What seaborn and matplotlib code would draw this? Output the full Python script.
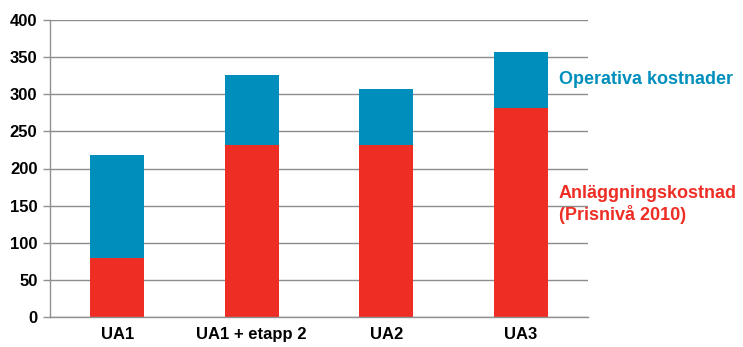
import matplotlib
matplotlib.use("Agg")
import matplotlib.pyplot as plt
import seaborn as sns
import pandas as pd

categories = ["UA1", "UA1 + etapp 2", "UA2", "UA3"]
anlaggning = [80, 232, 232, 282]
operativa = [138, 94, 75, 75]
yticks = [0, 50, 100, 150, 200, 250, 300, 350, 400]

RED = "#EE2E24"
BLUE = "#008FBC"

sns.set_theme(style="white")
plt.rcParams['font.family'] = ['Liberation Sans', 'DejaVu Sans']

df = pd.DataFrame({"cat": categories, "anl": anlaggning, "op": operativa})
df["total"] = df["anl"] + df["op"]

fig = plt.figure(figsize=(7.43, 3.47), dpi=100)
ax = fig.add_axes([50/743, (347-317)/347, (588-50)/743, (317-20)/347])

sns.barplot(data=df, x="cat", y="total", color=BLUE, width=0.4, ax=ax,
            saturation=1, edgecolor="none", linewidth=0)
sns.barplot(data=df, x="cat", y="anl", color=RED, width=0.4, ax=ax,
            saturation=1, edgecolor="none", linewidth=0)

ax.set_ylim(0, 400)
ax.set_xlim(-0.5, len(categories) - 0.5)
ax.set_yticks(yticks)
ax.set_yticklabels([str(v) for v in yticks], fontsize=12, fontweight="bold", color="black")
ax.set_xticks(range(len(categories)))
ax.set_xticklabels(categories, fontsize=12, fontweight="bold", color="black")
ax.set_xticks([i - 0.5 for i in range(len(categories) + 1)], minor=True)
ax.tick_params(axis="x", which="major", length=0, pad=7)
ax.tick_params(axis="x", which="minor", length=5, color="#909090", width=1, direction="out")
ax.tick_params(axis="y", length=5, color="#909090", width=1, direction="out", left=True, pad=4)
ax.set_xlabel("")
ax.set_ylabel("")
ax.yaxis.grid(True, color="#8c8c8c", linewidth=1)
ax.set_axisbelow(True)
for s in ["top", "right"]:
    ax.spines[s].set_visible(False)
for s in ["left", "bottom"]:
    ax.spines[s].set_color("#909090")
    ax.spines[s].set_linewidth(1)

fig.text(559/743, 1 - 80/347, "Operativa kostnader", color=BLUE, fontsize=13,
         fontweight="bold", ha="left", va="center")
fig.text(559/743, 1 - 193/347, "Anläggningskostnad", color=RED, fontsize=13,
         fontweight="bold", ha="left", va="center")
fig.text(559/743, 1 - 215/347, "(Prisnivå 2010)", color=RED, fontsize=13,
         fontweight="bold", ha="left", va="center")

fig.savefig("out.png", dpi=100)
